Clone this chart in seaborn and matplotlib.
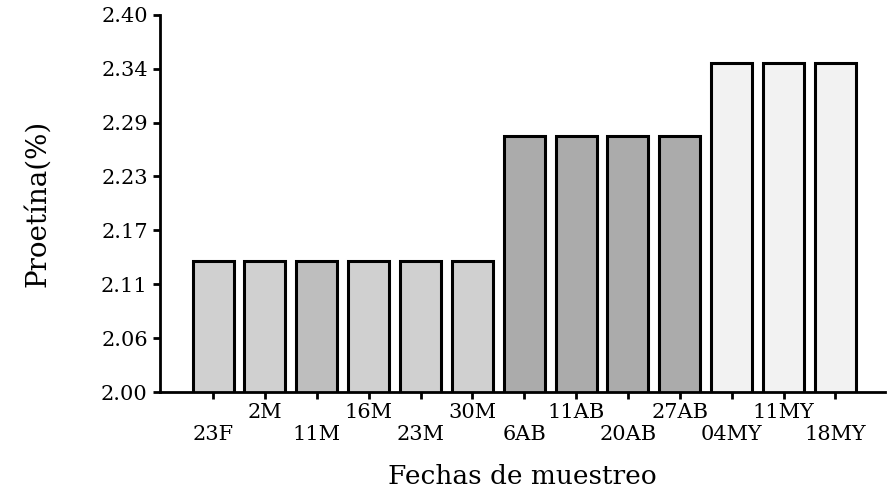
import matplotlib
matplotlib.use("Agg")
import matplotlib.pyplot as plt
import seaborn as sns
import pandas as pd

fechas = ["23F", "2M", "11M", "16M", "23M", "30M", "6AB", "11AB", "20AB", "27AB", "04MY", "11MY", "18MY"]
proteina = [2.139, 2.139, 2.139, 2.139, 2.139, 2.139, 2.272, 2.272, 2.272, 2.272, 2.349, 2.349, 2.349]
colores = ["#d0d0d0", "#d0d0d0", "#bebebe", "#d0d0d0", "#d0d0d0", "#d0d0d0",
           "#ababab", "#ababab", "#ababab", "#ababab", "#f2f2f2", "#f2f2f2", "#f2f2f2"]
y_ticks = [2.00, 2.0571, 2.1143, 2.1714, 2.2286, 2.2857, 2.3429, 2.40]
y_labels = ["2.00", "2.06", "2.11", "2.17", "2.23", "2.29", "2.34", "2.40"]

df = pd.DataFrame({"Fecha": fechas, "Proteina": proteina})

sns.set_theme(style="white")
plt.rcParams["font.family"] = ["DejaVu Serif", "Liberation Serif"]
plt.rcParams["text.color"] = "black"
plt.rcParams["axes.labelcolor"] = "black"
plt.rcParams["xtick.color"] = "black"
plt.rcParams["ytick.color"] = "black"

fig = plt.figure(figsize=(8.9, 4.92), dpi=100)
ax = fig.add_axes([0.18, 0.203, 0.814, 0.767])
sns.barplot(data=df, x="Fecha", y="Proteina", hue="Fecha", palette=colores,
            legend=False, width=0.79, edgecolor="black", linewidth=2.2, ax=ax)

ax.set_ylim(2.0, 2.4)
ax.set_xlim(-1.02, 12.95)
ax.set_yticks(y_ticks)
ax.set_yticklabels(y_labels, fontsize=15)
ax.set_xticks(range(len(fechas)))
ax.set_xticklabels(fechas, fontsize=15)
ax.tick_params(axis="both", direction="out", length=5, width=2, color="black",
               bottom=True, left=True, pad=4)
# staggered labels: even positions on the lower row
for i, tick in enumerate(ax.xaxis.get_major_ticks()):
    tick.set_pad(19 if i % 2 == 0 else 3)

for s in ["top", "right"]:
    ax.spines[s].set_visible(False)
for s in ["left", "bottom"]:
    ax.spines[s].set_color("black")
    ax.spines[s].set_linewidth(2)

ax.set_xlabel("Fechas de muestreo", fontsize=19)
ax.xaxis.set_label_coords(0.5, -0.19)
ax.set_ylabel("Proetína(%)", fontsize=20, labelpad=36)

fig.savefig("out.png", dpi=100)
